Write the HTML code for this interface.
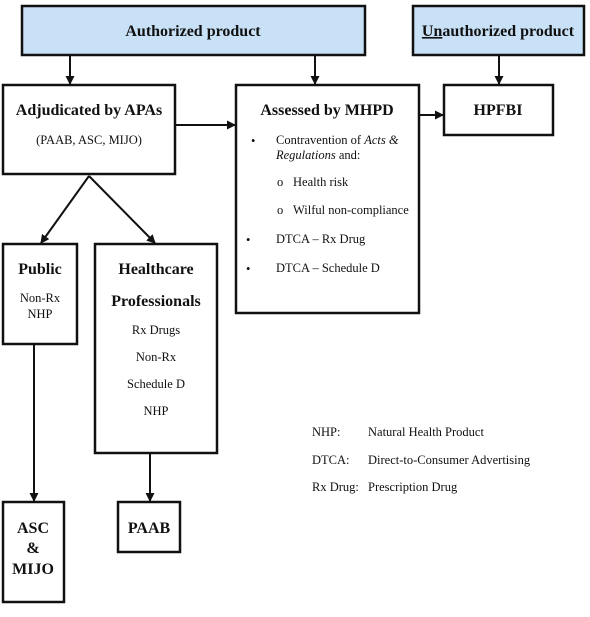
<!DOCTYPE html>
<html><head><meta charset="utf-8"><style>
body{margin:0;background:#fff;}
svg text{font-family:"Liberation Serif",serif;fill:#111;}
.b{font-weight:bold;font-size:16px;}
.s{font-size:12.5px;}
</style></head><body>
<svg width="590" height="612" viewBox="0 0 590 612" xmlns="http://www.w3.org/2000/svg">
<defs><marker id="a" markerWidth="9" markerHeight="9" refX="8" refY="4.5" orient="auto" markerUnits="userSpaceOnUse"><path d="M0,0 L9,4.5 L0,9 z" fill="#111"/></marker></defs>
<g stroke="#111" stroke-width="2.5" fill="#fff">
<rect x="22" y="6" width="343" height="49" fill="#c8e1f6"/>
<rect x="413" y="6" width="171" height="49" fill="#c8e1f6"/>
<rect x="3" y="85" width="172" height="89"/>
<rect x="236" y="85" width="183" height="228"/>
<rect x="444" y="85" width="109" height="50"/>
<rect x="3" y="244" width="74" height="100"/>
<rect x="95" y="244" width="122" height="209"/>
<rect x="3" y="502" width="61" height="100"/>
<rect x="118" y="502" width="62" height="50"/>
</g>
<g stroke="#111" stroke-width="2" fill="none" marker-end="url(#a)">
<line x1="70" y1="55" x2="70" y2="84"/>
<line x1="315" y1="55" x2="315" y2="84"/>
<line x1="499" y1="55" x2="499" y2="84"/>
<line x1="175" y1="125" x2="235" y2="125"/>
<line x1="419" y1="115" x2="443" y2="115"/>
<line x1="89" y1="176" x2="41" y2="243"/>
<line x1="89" y1="176" x2="155" y2="243"/>
<line x1="34" y1="344" x2="34" y2="501"/>
<line x1="150" y1="453" x2="150" y2="501"/>
</g>
<g text-anchor="middle">
<text class="b" x="193" y="36">Authorized product</text>
<text class="b" x="498" y="36"><tspan text-decoration="underline">Un</tspan>authorized product</text>
<text class="b" x="89" y="115">Adjudicated by APAs</text>
<text class="s" x="89" y="144">(PAAB, ASC, MIJO)</text>
<text class="b" x="327" y="115">Assessed by MHPD</text>
<text class="b" x="498" y="115">HPFBI</text>
<text class="b" x="40" y="274">Public</text>
<text class="s" x="40" y="302">Non-Rx</text>
<text class="s" x="40" y="318">NHP</text>
<text class="b" x="156" y="274">Healthcare</text>
<text class="b" x="156" y="306">Professionals</text>
<text class="s" x="156" y="334">Rx Drugs</text>
<text class="s" x="156" y="361">Non-Rx</text>
<text class="s" x="156" y="388">Schedule D</text>
<text class="s" x="156" y="415">NHP</text>
<text class="b" x="33" y="533">ASC</text>
<text class="b" x="33" y="553">&amp;</text>
<text class="b" x="33" y="574">MIJO</text>
<text class="b" x="149" y="533">PAAB</text>
</g>
<g>
<text class="s" x="251" y="145" font-size="15">•</text>
<text class="s" x="276" y="144">Contravention of <tspan font-style="italic">Acts &amp;</tspan></text>
<text class="s" x="276" y="159"><tspan font-style="italic">Regulations</tspan> and:</text>
<text class="s" x="277" y="186">o</text><text class="s" x="293" y="186">Health risk</text>
<text class="s" x="277" y="214">o</text><text class="s" x="293" y="214">Wilful non-compliance</text>
<text class="s" x="246" y="244" font-size="15">•</text><text class="s" x="276" y="243">DTCA – Rx Drug</text>
<text class="s" x="246" y="273" font-size="15">•</text><text class="s" x="276" y="272">DTCA – Schedule D</text>
<text class="s" x="312" y="436">NHP:</text><text class="s" x="368" y="436">Natural Health Product</text>
<text class="s" x="312" y="464">DTCA:</text><text class="s" x="368" y="464">Direct-to-Consumer Advertising</text>
<text class="s" x="312" y="491">Rx Drug:</text><text class="s" x="368" y="491">Prescription Drug</text>
</g>
</svg>
</body></html>
